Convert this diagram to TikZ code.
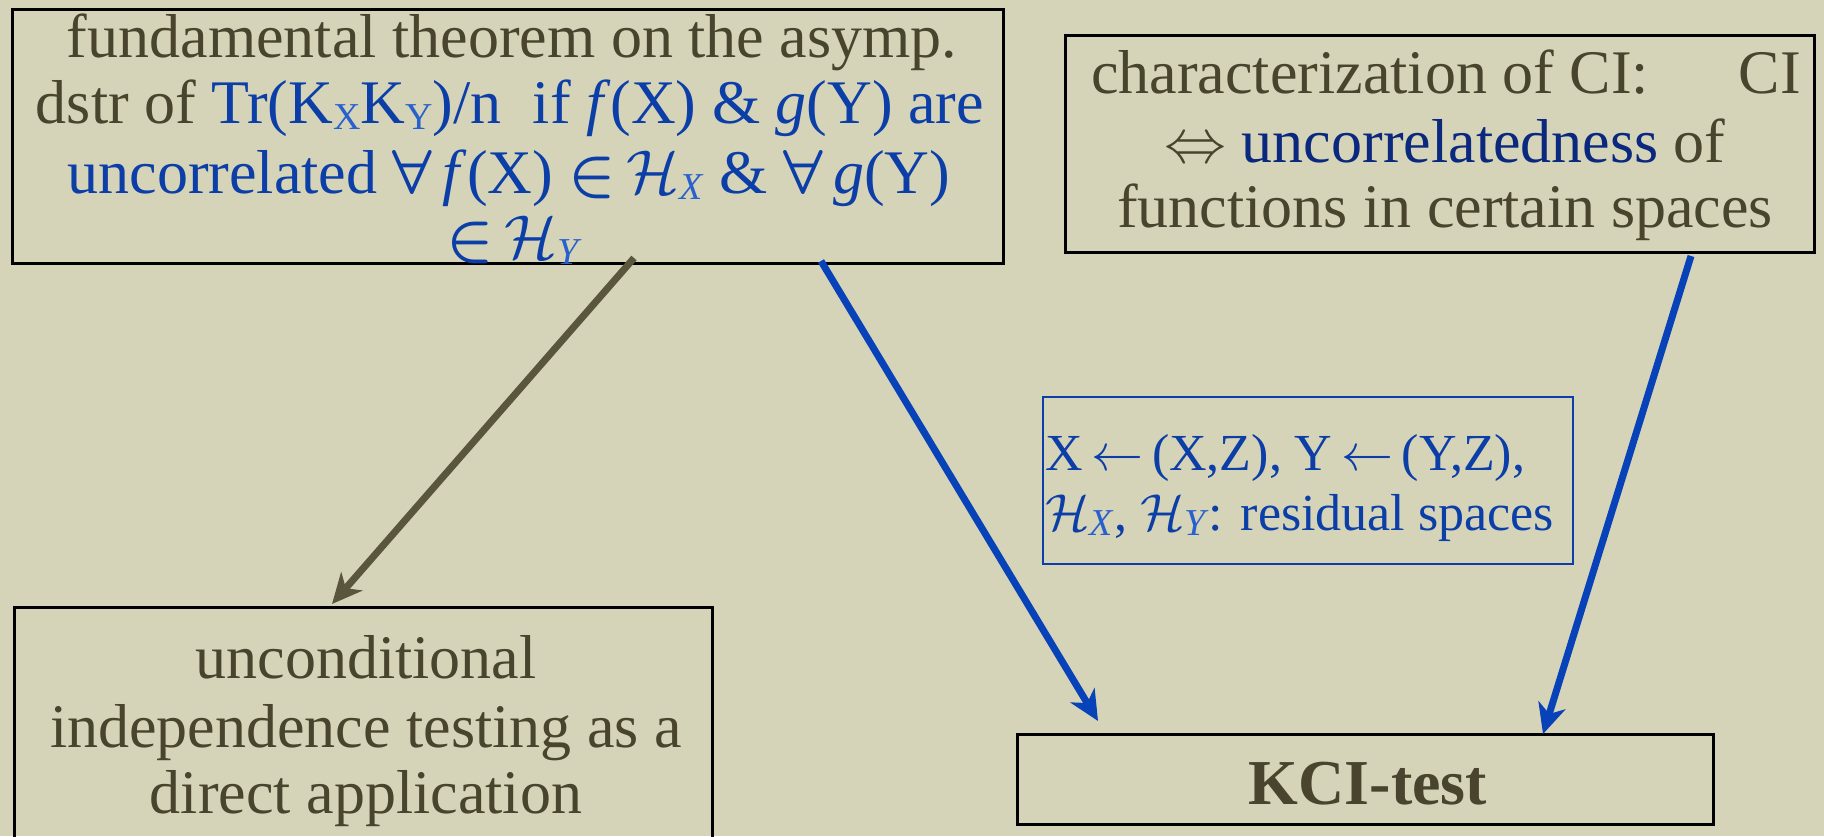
\RequirePackage{fix-cm}
\documentclass[tikz,border=0pt]{standalone}
\usepackage{amsmath}
\usepackage{fontspec}
\setmainfont{Liberation Serif}
\usetikzlibrary{arrows.meta}
\definecolor{bgc}{RGB}{214,212,184}
\definecolor{dk}{RGB}{72,68,46}
\definecolor{bl}{RGB}{12,62,168}
\definecolor{lb}{RGB}{40,96,205}
\definecolor{nv}{RGB}{10,40,125}
\definecolor{oa}{RGB}{90,86,62}
\definecolor{ba}{RGB}{8,66,185}
\newcommand{\lsub}[1]{\raisebox{-0.22ex}{\fontsize{38}{38}\selectfont\textcolor{lb}{#1}}}
\newcommand{\calH}{$\mathcal{H}$}
\newcommand{\fa}{$\boldsymbol{\forall}$}
\newcommand{\el}{$\boldsymbol{\in}$}
\begin{document}
\begin{tikzpicture}[x=1pt,y=-1pt,
  box/.style={draw=black, line width=3pt, inner sep=0pt, outer sep=0pt},
  bbox/.style={draw=bl, line width=2pt, inner sep=0pt, outer sep=0pt},
  ln/.style={anchor=base, inner sep=0pt, text=dk, font=\fontsize{62}{68}\selectfont},
  lnc/.style={anchor=base west, inner sep=0pt, text=bl, font=\fontsize{52}{60}\selectfont},
  oarrow/.style={draw=oa, line width=7pt, -{Stealth[length=30pt,width=28pt,inset=9pt]}},
  barrow/.style={draw=ba, line width=7pt, -{Stealth[length=30pt,width=28pt,inset=9pt]}}
]
\fill[bgc] (0,0) rectangle (1824,836);
\useasboundingbox (0,0) rectangle (1824,836);

% boxes
\node[box, minimum width=991pt, minimum height=254pt] (A) at (507.5,136) {};
\node[box, minimum width=749pt, minimum height=217pt] (B) at (1439.5,143.5) {};
\node[bbox, minimum width=530pt, minimum height=167pt] (C) at (1308,480.5) {};
\node[box, minimum width=698pt, minimum height=243pt] (D) at (363,728.5) {};
\node[box, minimum width=696pt, minimum height=90pt] (E) at (1365,779) {};

% box A text
\node[ln] (A1) at (512,57) {fundamental theorem on the asymp.};
\node[ln] (A2) at (510,123) {dstr of \textcolor{bl}{Tr(K\lsub{X}K\lsub{Y})/n\ \ if \textit{f\/}(X) \& \textit{g\/}(Y) are}};
\node[ln, text=bl] (A3) at (509,193) {uncorrelated \fa\,\textit{f\/}(X) \el\,\calH\lsub{\textit{X}} \& \fa\,\textit{g\/}(Y)};
\node[ln, text=bl] (A4) at (514,258) {\el\,\calH\lsub{\textit{Y}}};

% box B text
\node[ln] (B1) at (1446,93) {characterization of CI:\hspace{90pt}CI};
\node[ln] (B2) at (1445,162) {$\Leftrightarrow$ \textcolor{nv}{uncorrelatedness} of};
\node[ln] (B3) at (1445,227) {functions in certain spaces};

% box C text
\node[lnc] (C1) at (1045,470) {X\,$\leftarrow$\,(X,Z), Y\,$\leftarrow$\,(Y,Z),};
\node[lnc] (C2) at (1045,530) {\calH\lsub{\textit{X}}, \calH\lsub{\textit{Y}}: residual spaces};

% box D text
\node[ln] (D1) at (366,678) {unconditional};
\node[ln] (D2) at (366,747) {independence testing as a};
\node[ln] (D3) at (366,813) {direct application};

% box E text
\node[ln, font=\fontsize{64}{70}\selectfont\bfseries] (E1) at (1368,804) {KCI-test};

% arrows
\draw[oarrow] ([xshift=126.5pt,yshift=5pt]A.south) -- ([xshift=-31pt,yshift=3pt]D.north);
\draw[barrow] ([xshift=313.5pt,yshift=2pt]A.south) -- ([xshift=-267pt,yshift=13pt]E.north);
\draw[barrow] ([xshift=251.5pt,yshift=-4pt]B.south) -- ([xshift=178pt,yshift=0pt]E.north);
\end{tikzpicture}
\end{document}
